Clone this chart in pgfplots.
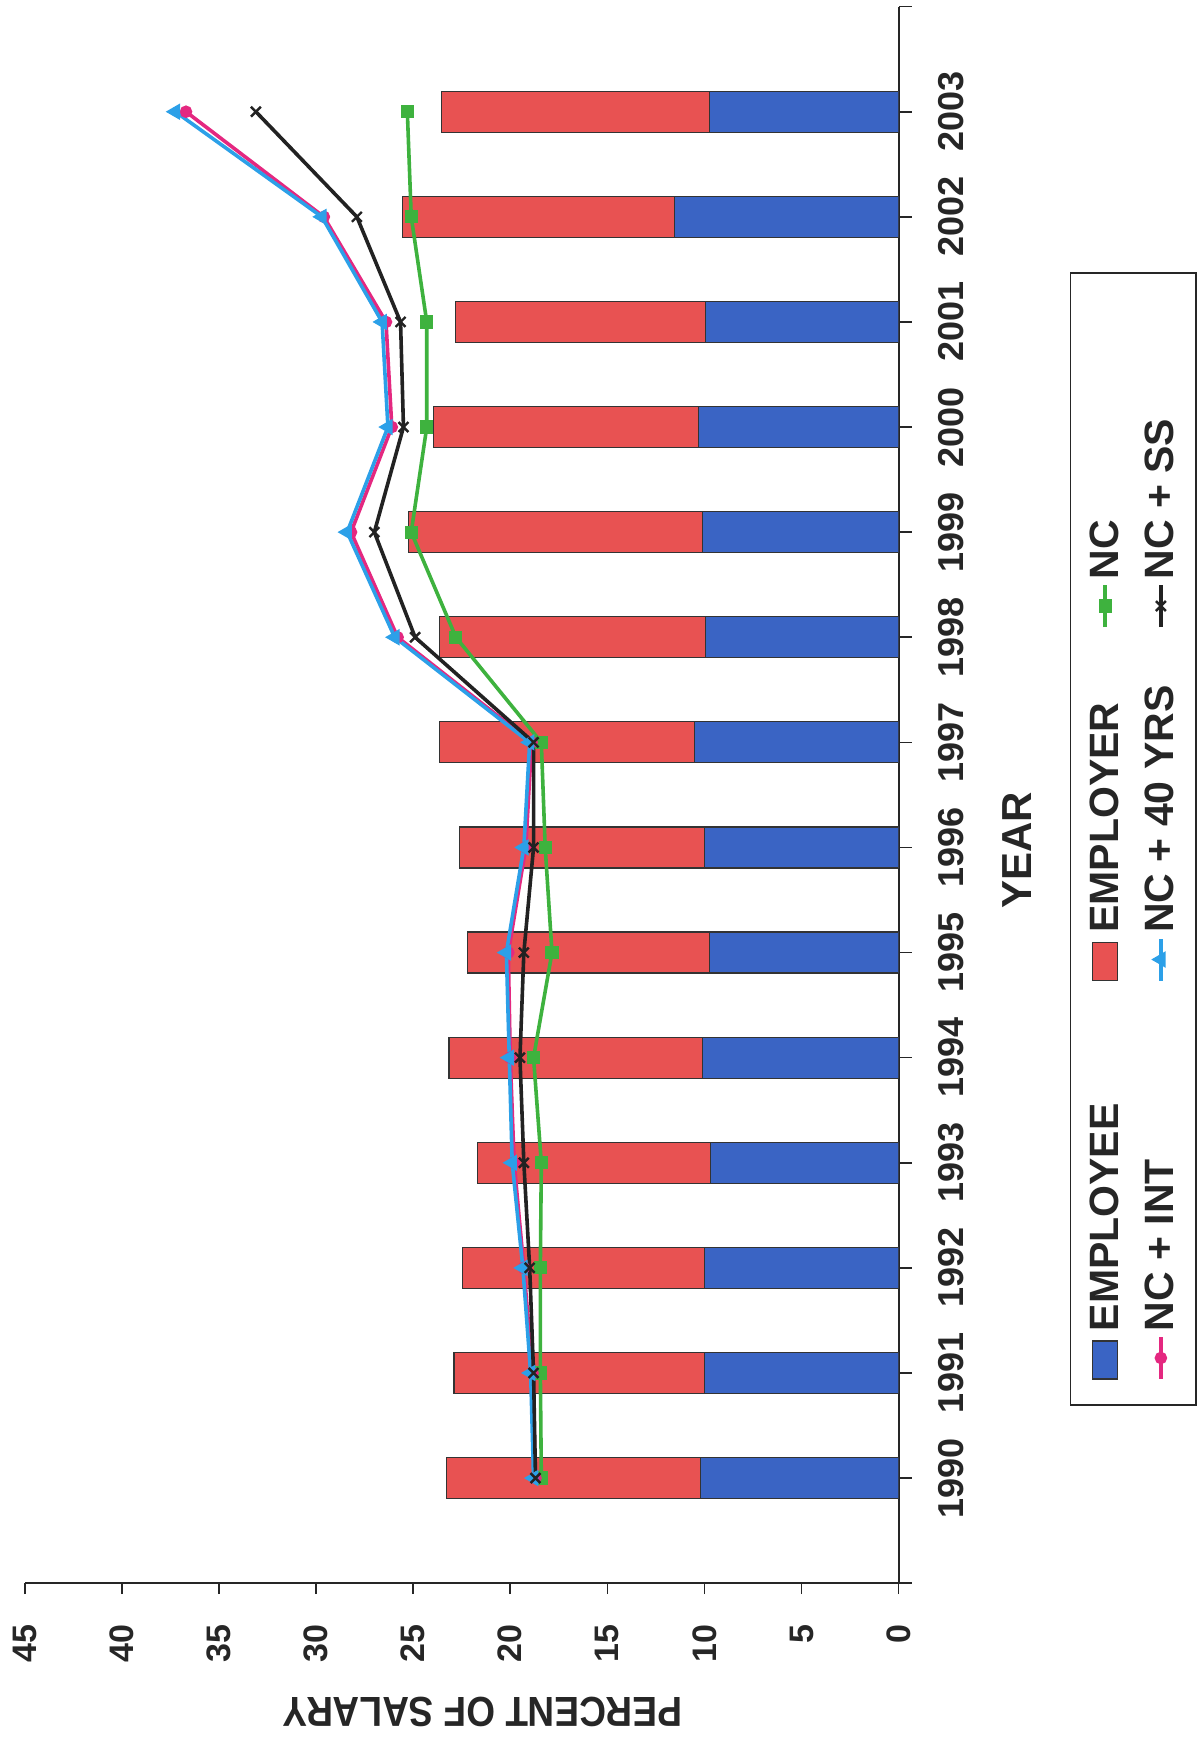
\documentclass[border=0pt]{standalone}
\usepackage{pgfplots}
\pgfplotsset{compat=1.18}
\usepackage{pgfplotstable}
\usepackage{fontspec}
\setmainfont{Liberation Sans}
\newfontfamily\narrowfont{Liberation Sans}[FakeStretch=0.88]

\definecolor{empblue}{RGB}{58,100,196}
\definecolor{empred}{RGB}{232,82,82}
\definecolor{ncgreen}{RGB}{62,178,62}
\definecolor{ncmag}{RGB}{228,40,128}
\definecolor{ncsky}{RGB}{44,160,232}
\definecolor{ncblack}{RGB}{34,34,34}

% contribution rates, percent of salary (index 0 = 1990)
\pgfplotstableread{
idx emp  empr  nc    ncint nc40  ncss
0   10.2 13.1  18.40 18.70 18.80 18.70
1   10.0 12.9  18.45 18.85 18.95 18.80
2   10.0 12.45 18.45 19.30 19.35 19.00
3   9.7  12.0  18.40 19.80 19.90 19.30
4   10.1 13.05 18.80 20.00 20.05 19.50
5   9.75 12.45 17.85 20.10 20.20 19.30
6   10.0 12.6  18.20 19.20 19.30 18.80
7   10.5 13.15 18.40 18.90 19.00 18.80
8   9.95 13.7  22.80 25.80 25.95 24.90
9   10.1 15.15 25.10 28.20 28.40 27.00
10  10.3 13.65 24.30 26.10 26.30 25.50
11  9.95 12.85 24.30 26.40 26.60 25.65
12  11.55 14.0 25.10 29.60 29.70 27.90
13  9.75 13.8  25.30 36.70 37.25 33.10
}\contrib

\pgfplotsset{
  frame/.style={
    width=788.5pt, height=437pt, scale only axis,
    xmin=-1, xmax=14, ymin=0, ymax=45,
  },
  linelegend/.style={
    legend image code/.code={
      \draw[mark repeat=2, mark phase=2, ##1]
        plot coordinates {(0pt,0pt) (10.5pt,0pt) (21pt,0pt)};
    },
  },
  boxlegend/.style={
    legend image code/.code={
      \draw[##1] (0pt,-6.25pt) rectangle (19pt,6.25pt);
    },
  },
}

\begin{document}
\begin{tikzpicture}[rotate=90, transform shape]
% stacked employee / employer bars with the axes
\begin{axis}[
  frame,
  ybar stacked, bar width=20.5pt,
  axis x line*=bottom, axis y line*=left,
  axis line style={line width=1pt, black!85},
  tick align=outside,
  xtick={-1,...,14},
  xticklabels={,1990,1991,1992,1993,1994,1995,1996,1997,1998,1999,2000,2001,2002,2003,},
  ytick={0,5,...,45},
  xtick style={/pgfplots/major tick length=6.5pt, line width=0.8pt, black!85},
  ytick style={/pgfplots/major tick length=5.5pt, line width=0.8pt, black!85},
  /pgf/number format/assume math mode=true,
  xticklabel style={font=\bfseries\fontsize{18}{21}\selectfont, text=black!85, yshift=-12pt},
  yticklabel style={font=\bfseries\fontsize{17}{20}\selectfont, text=black!85,
    xshift=-13pt, inner ysep=6.5pt},
  xlabel={YEAR},
  xlabel style={at={(axis description cs:0.465,-0.136)}, anchor=center,
    font=\bfseries\fontsize{21}{24}\selectfont, text=black!85},
  ylabel={PERCENT OF SALARY},
  ylabel style={at={(axis description cs:-0.0818,0.476)}, anchor=center,
    inner ysep=6.5pt,
    font=\narrowfont\bfseries\fontsize{21}{24}\selectfont, text=black!85},
]
\addplot[fill=empblue, draw=black!80, line width=0.6pt] table[x=idx, y=emp] {\contrib};
\addplot[fill=empred, draw=black!80, line width=0.6pt] table[x=idx, y=empr] {\contrib};
\end{axis}

% the four normal-cost lines and the legend
\begin{axis}[
  frame, hide axis,
  legend columns=3,
  legend cell align=left,
  legend style={
    at={(axis description cs:0.472,-0.1957)}, anchor=north,
    draw=black!85, line width=0.9pt,
    font=\bfseries\fontsize{20.5}{23}\selectfont,
    text=black!85,
    inner xsep=12pt, inner ysep=7.5pt,
    row sep=8pt,
  },
]
\addlegendimage{boxlegend, fill=empblue, draw=black!80, line width=0.6pt}
\addlegendentry{\makebox[172.5pt][l]{EMPLOYEE}}
\addlegendimage{boxlegend, fill=empred, draw=black!80, line width=0.6pt}
\addlegendentry{\makebox[150pt][l]{EMPLOYER}}
\addplot[linelegend, ncgreen, line width=1.8pt, mark=square*, mark size=2.4pt]
  table[x=idx, y=nc] {\contrib};
\addlegendentry{\makebox[139pt][l]{NC}}
\addplot[linelegend, ncmag, line width=1.8pt, mark=*, mark size=2.2pt]
  table[x=idx, y=ncint] {\contrib};
\addlegendentry{NC + INT}
\addplot[linelegend, ncsky, line width=1.8pt, mark=triangle*, mark size=3pt]
  table[x=idx, y=nc40] {\contrib};
\addlegendentry{NC + 40 YRS}
\addplot[linelegend, ncblack, line width=1.8pt, mark=x, mark size=3.5pt,
  mark options={line width=1.2pt}]
  table[x=idx, y=ncss] {\contrib};
\addlegendentry{NC + SS}
\end{axis}
\end{tikzpicture}
\end{document}
